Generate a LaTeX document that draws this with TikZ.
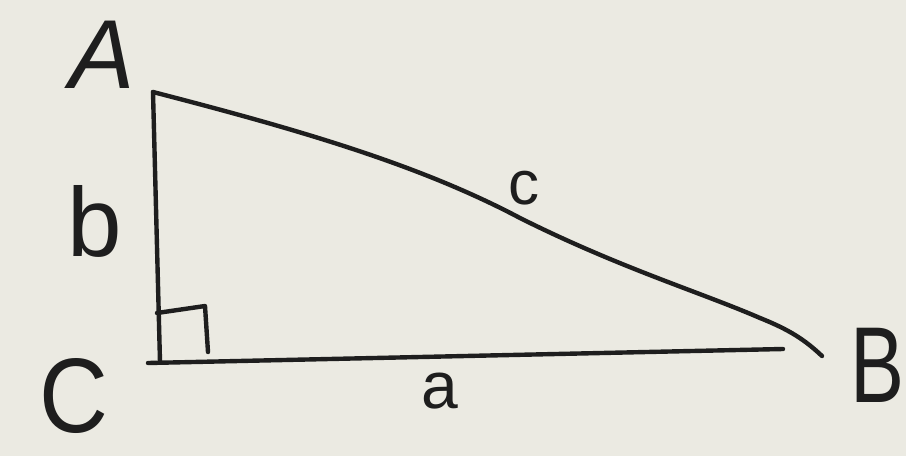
\documentclass[tikz,border=0pt]{standalone}
\usepackage{fontspec}
\setmainfont{Liberation Sans}
\definecolor{paper}{HTML}{EBEAE2}
\definecolor{ink}{HTML}{1E1E1E}
\begin{document}
\begin{tikzpicture}[x=1pt,y=-1pt,
  stroke/.style={draw=ink,line width=4.4pt,line cap=round,line join=round},
  lbl/.style={text=ink,inner sep=0pt,anchor=base}]
\fill[paper] (0,0) rectangle (906,456);
\useasboundingbox (0,0) rectangle (906,456);
\coordinate (A) at (153,92);
\coordinate (C) at (160,362);
\coordinate (Cs) at (148,363);
\coordinate (Bb) at (783,349);
\coordinate (B) at (822,356);
\coordinate (R1) at (157,313);
\coordinate (R2) at (205,306);
\coordinate (R3) at (208,352);
\draw[stroke] (A) -- (C);
\draw[stroke] (Cs) -- (Bb);
\draw[stroke] (R1) -- (R2) -- (R3);
\draw[stroke] (A) .. controls (300,130) and (420,165) .. (520,218)
  .. controls (620,268) and (700,292) .. (760,318)
  .. controls (790,330) and (805,340) .. (B);
\node[lbl,font=\fontsize{98}{98}\selectfont\itshape] (lA) at (102,88) {A};
\node[lbl,font=\fontsize{98}{98}\selectfont] (lb) at (95,256) {b};
\node[lbl,font=\fontsize{62}{62}\selectfont] (lc) at (524,204) {c};
\node[lbl,font=\fontsize{106}{106}\selectfont] (lC) at (74,432) {\scalebox{0.9}[1]{C}};
\node[lbl,font=\fontsize{66}{66}\selectfont] (la) at (440,408) {a};
\node[lbl,font=\fontsize{108}{108}\selectfont] (lB) at (878,402) {\scalebox{0.75}[1]{B}};
\end{tikzpicture}
\end{document}
